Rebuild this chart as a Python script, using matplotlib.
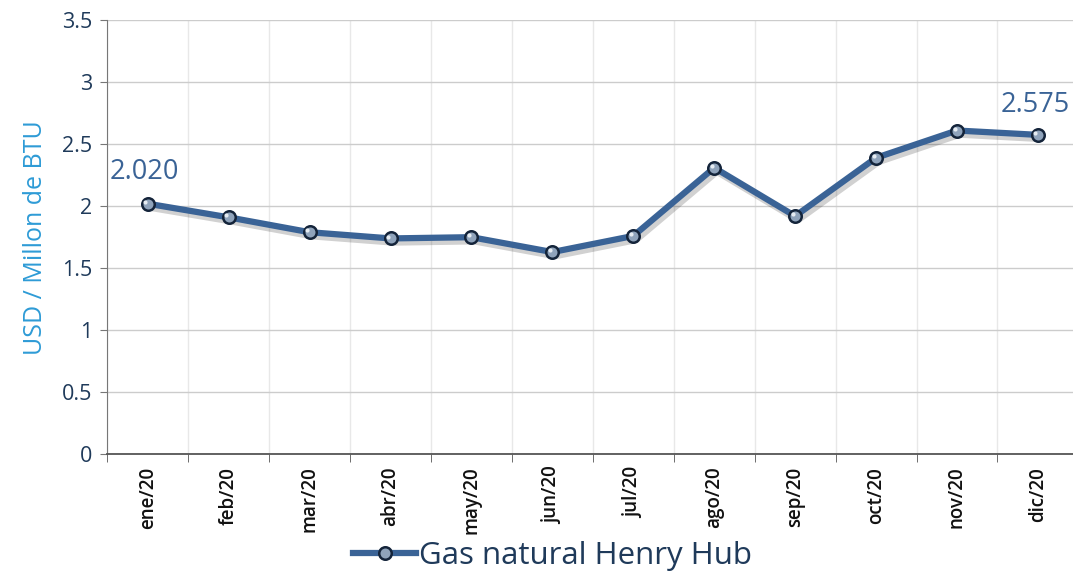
import numpy as np
import matplotlib
matplotlib.use("Agg")
import matplotlib.pyplot as plt
import matplotlib.patheffects as pe
from matplotlib.lines import Line2D

months = ['ene/20', 'feb/20', 'mar/20', 'abr/20', 'may/20', 'jun/20',
          'jul/20', 'ago/20', 'sep/20', 'oct/20', 'nov/20', 'dic/20']
henry_hub = [2.02, 1.91, 1.79, 1.74, 1.75, 1.63, 1.76, 2.31, 1.92, 2.39, 2.61, 2.575]
y_ticks = [0, 0.5, 1, 1.5, 2, 2.5, 3, 3.5]
y_tick_labels = ['0', '0.5', '1', '1.5', '2', '2.5', '3', '3.5']

plt.rcParams['font.family'] = ['Open Sans', 'DejaVu Sans']

line_col = '#3a6396'
navy = '#1f3a5a'

fig = plt.figure(figsize=(10.73, 5.75), dpi=100)
ax = fig.add_axes([0.1, 0.21, 0.905, 0.755])

x = np.arange(len(months))
shadow = [pe.SimpleLineShadow(offset=(2, -3), shadow_color='k', alpha=0.18, rho=0.3), pe.Normal()]
ax.plot(x, henry_hub, color=line_col, lw=4.5, solid_capstyle='round',
        path_effects=shadow, zorder=3, label='Gas natural Henry Hub')
ax.plot(x, henry_hub, ls='none', marker='o', ms=9, mfc='#8fa3bb', mec='#14243a',
        mew=1.8, zorder=4)
ax.plot(x - 0.03, np.array(henry_hub) + 0.015, ls='none', marker='o', ms=3,
        mfc='#e6ecf2', mec='none', zorder=5)

# data labels at first and last point
ax.text(x[0] - 0.47, henry_hub[0] + 0.14, '%.3f' % henry_hub[0], color=line_col,
        fontsize=19.5, ha='left', va='bottom')
ax.text(x[-1] + 0.4, henry_hub[-1] + 0.13, '%.3f' % henry_hub[-1], color=line_col,
        fontsize=19.5, ha='right', va='bottom')

ax.set_xlim(-0.5, len(months) - 0.5)
ax.set_ylim(0, 3.5)
ax.set_yticks(y_ticks)
ax.set_yticklabels(y_tick_labels, color=navy, fontsize=15.5)
ax.set_xticks(x)
ax.set_xticklabels(months, rotation=90, fontsize=13.5, fontweight=600, color='#111111')
ax.set_xticks(np.arange(-0.5, len(months), 1), minor=True)
ax.tick_params(axis='x', which='major', length=0, pad=9)
ax.tick_params(axis='x', which='minor', length=6, color='#555555', direction='out')
ax.tick_params(axis='y', length=5, color='#777777', pad=6)

ax.grid(axis='y', color='#cccccc', lw=1)
ax.grid(axis='x', which='minor', color='#e8e8e8', lw=1)
ax.set_axisbelow(True)
for s in ['top', 'right']:
    ax.spines[s].set_visible(False)
ax.spines['left'].set_color('#777777')
ax.spines['bottom'].set_color('#555555')
ax.spines['bottom'].set_linewidth(1.3)

ax.set_ylabel('USD / Millon de BTU', color='#2e9bd6', fontsize=18, labelpad=10)

h = Line2D([0], [0], color=line_col, lw=4.5, marker='o', ms=9, mfc='#8fa3bb', mec='#14243a', mew=1.8)
fig.legend([h], ['Gas natural Henry Hub'], loc='lower center', bbox_to_anchor=(0.515, -0.042),
           frameon=False, fontsize=22.5, handlelength=2.0, handletextpad=0.1,
           labelcolor=navy)

fig.savefig('out.png', dpi=100)
